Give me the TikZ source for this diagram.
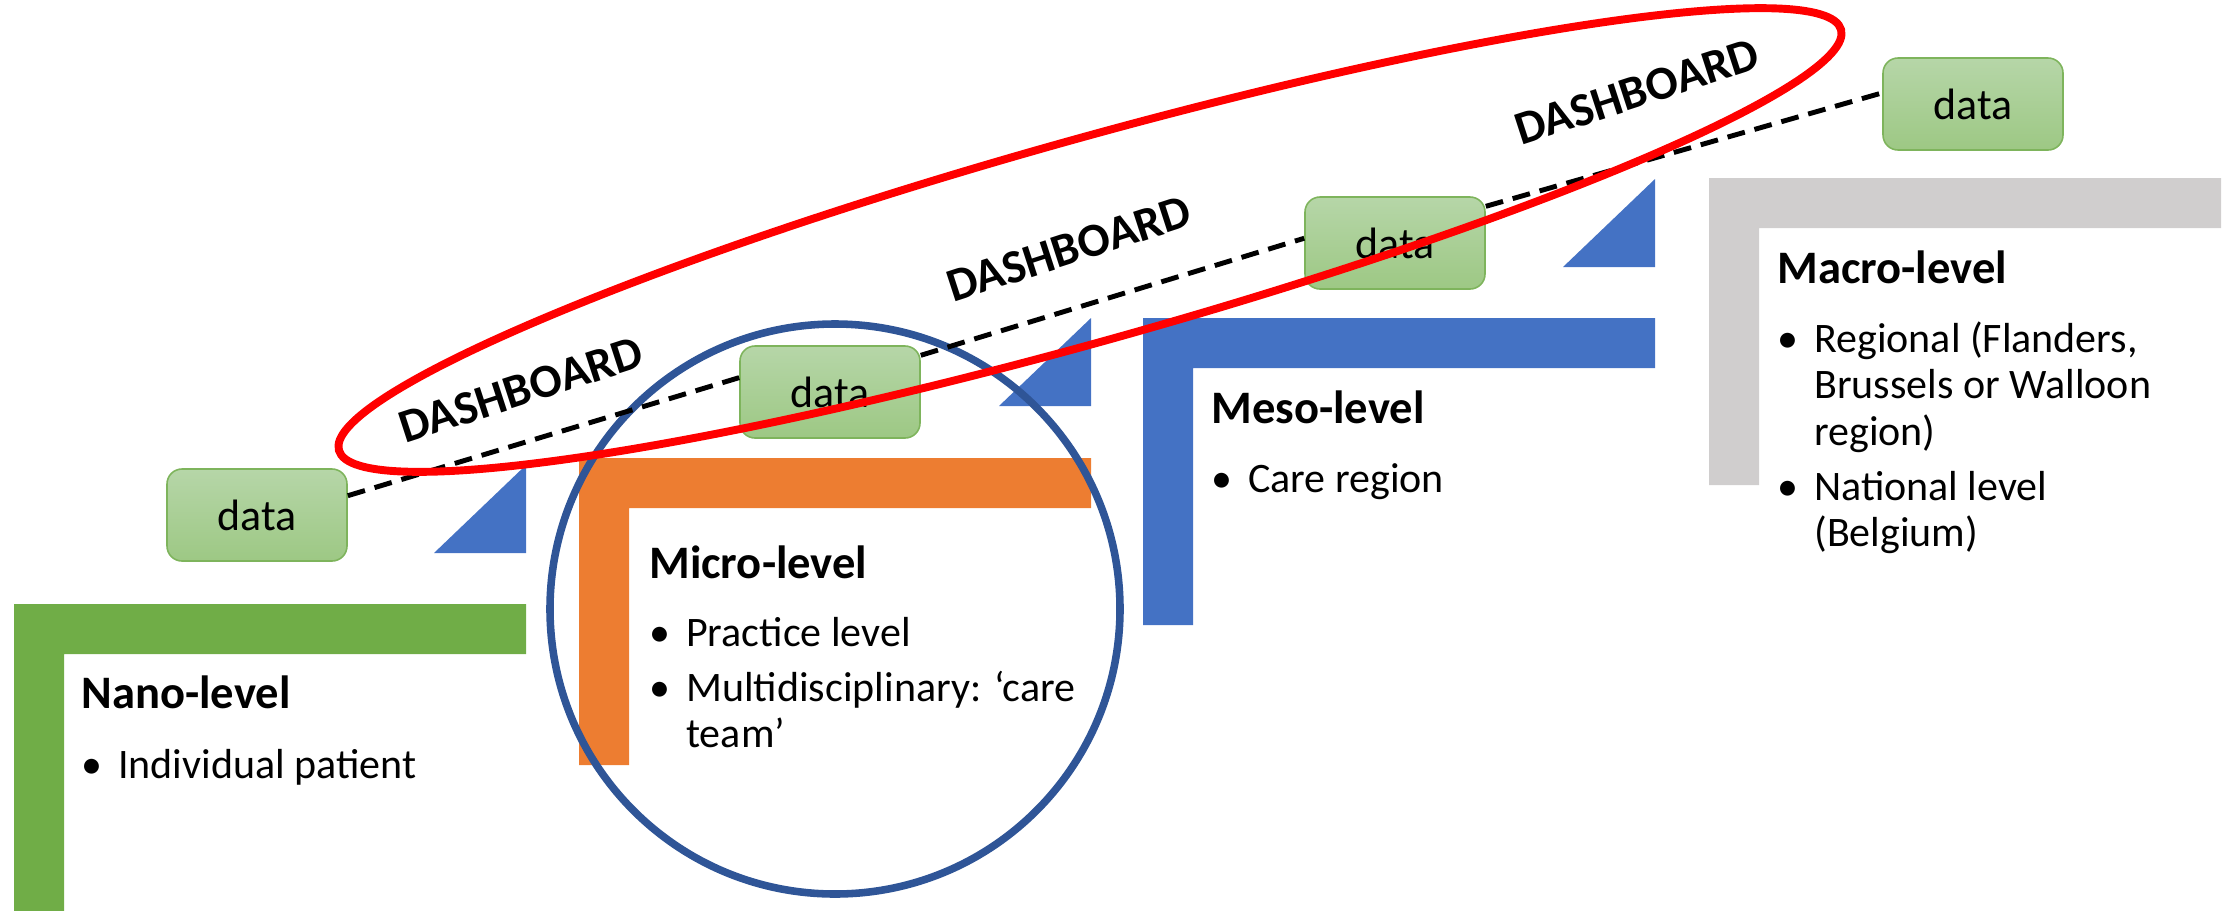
\documentclass[tikz,border=0pt]{standalone}
\usepackage{fontspec}
\setmainfont{Carlito}
\usetikzlibrary{shapes.geometric}

\definecolor{nanogreen}{HTML}{70AD47}
\definecolor{microorange}{HTML}{ED7D31}
\definecolor{mesoblue}{HTML}{4472C4}
\definecolor{macrogrey}{HTML}{D0CECE}
\definecolor{focusblue}{HTML}{2F5597}
\definecolor{datatop}{HTML}{B6D6A8}
\definecolor{databottom}{HTML}{9DC884}
\definecolor{dataedge}{HTML}{7EB45C}

\newcommand{\bul}{\makebox[0.88em][l]{\textbullet}}
\newcommand{\cont}{\hspace*{0.88em}}

\tikzset{
  databox/.style={draw=dataedge, line width=0.9pt, rounded corners=3mm,
    top color=datatop, bottom color=databottom,
    minimum width=36mm, minimum height=18.4mm, inner sep=0pt,
    font=\fontsize{25pt}{30pt}\selectfont},
  levelhead/.style={anchor=base west, inner sep=0pt,
    font=\fontsize{26.5pt}{32pt}\selectfont\bfseries},
  levelbody/.style={anchor=base west, inner sep=0pt,
    font=\fontsize{23.9pt}{26.5pt}\selectfont},
  dashlabel/.style={rotate=18, inner sep=0pt,
    font=\fontsize{27pt}{32pt}\selectfont\bfseries},
  datalink/.style={line width=2.8pt, dash pattern=on 10.2pt off 5.7pt},
}

\begin{document}
\begin{tikzpicture}[x=0.2mm, y=-0.2mm]
  \useasboundingbox (0,0) rectangle (2227,910);

  % the four steps
  \foreach \lx/\ly/\col in {14/604/nanogreen, 579/458/microorange, 1143/318/mesoblue, 1709/178/macrogrey} {
    \fill[\col] (\lx,\ly+307) -- (\lx,\ly) -- ++(512,0) -- ++(0,50)
      -- (\lx+50,\ly+50) -- (\lx+50,\ly+307) -- cycle;
  }
  \foreach \rx/\by in {526/553, 1091/406, 1655/267} {
    \fill[mesoblue] (\rx-92,\by) -- (\rx,\by) -- (\rx,\by-88) -- cycle;
  }

  \node[circle, draw=focusblue, line width=4.3pt, minimum size=114mm] (focus) at (835,609) {};

  % texts of the levels
  \node[levelhead] (nanohead) at (81,708) {Nano-level};
  \node[levelbody] (nanotext) at (81,778) {\bul Individual patient};
  \node[levelhead] (microhead) at (649,578) {Micro-level};
  \node[levelbody] (microtext) at (649,646) {\begin{tabular}[t]{@{}l@{}}
    \bul Practice level\\[4.8pt]
    \bul Multidisciplinary: ‘care\\
    \cont team’\end{tabular}};
  \node[levelhead] (mesohead) at (1211,423) {Meso-level};
  \node[levelbody] (mesotext) at (1211,492) {\bul Care region};
  \node[levelhead] (macrohead) at (1777,283) {Macro-level};
  \node[levelbody] (macrotext) at (1777,352) {\begin{tabular}[t]{@{}l@{}}
    \bul Regional (Flanders,\\
    \cont Brussels or Walloon\\
    \cont region)\\[4.8pt]
    \bul National level\\
    \cont (Belgium)\end{tabular}};

  % data boxes
  \node[databox] (d1) at (257,515) {data};
  \node[databox] (d2) at (830,392) {data};
  \node[databox] (d3) at (1395,243) {data};
  \node[databox] (d4) at (1973,104) {data};

  \draw[datalink] (d1.12) -- (d2.171);
  \draw[datalink] (d2.22) -- (d3.177);
  \draw[datalink] (d3.22) -- (d4.173);

  \node[ellipse, draw=red, line width=4.5pt, minimum width=312mm, minimum height=40.4mm,
    rotate=15.65] (board) at (1090,240) {};

  \foreach[count=\i] \px/\py in {521/390, 1069/249, 1637/92} {
    \node[dashlabel] (dash\i) at (\px,\py) {DASHBOARD};
  }
\end{tikzpicture}
\end{document}
